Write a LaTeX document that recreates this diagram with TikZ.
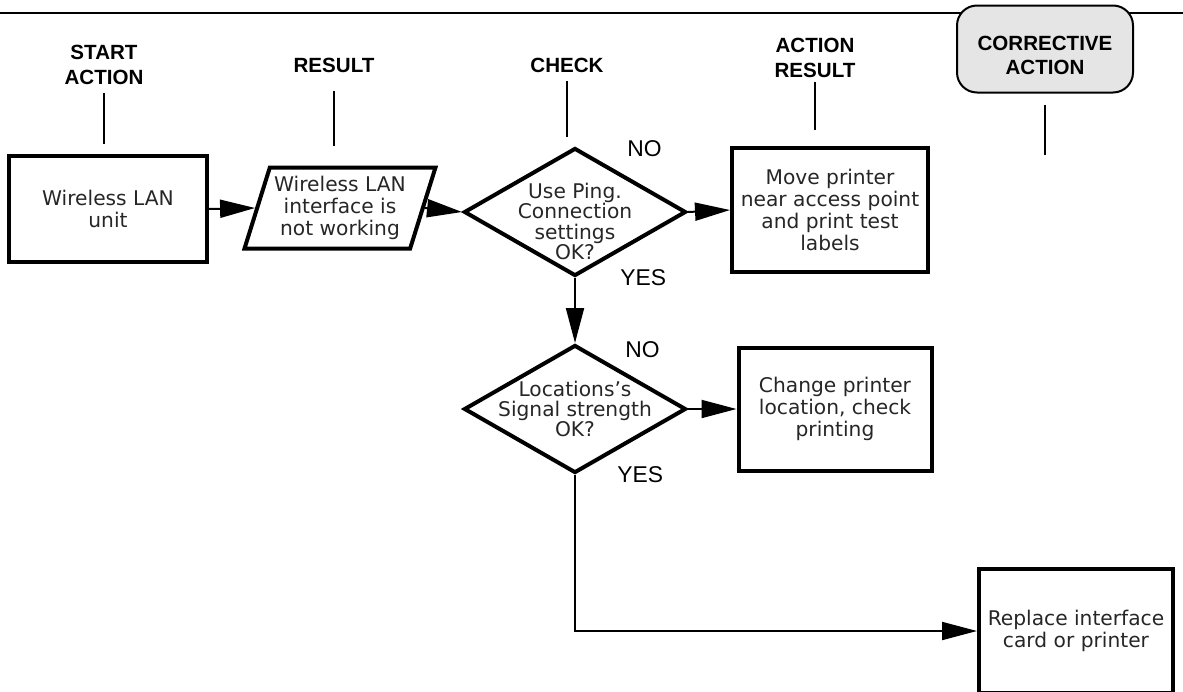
\documentclass[tikz,border=0pt]{standalone}
\usepackage{fontspec}
\setmainfont{DejaVu Sans}
\newfontfamily\headfont{Liberation Sans}
\usetikzlibrary{positioning, shapes.geometric, arrows.meta}

\begin{document}
\begin{tikzpicture}[x=0.2mm, y=-0.2mm,
		box/.style={draw, line width=0.8mm, align=center, inner sep=1pt, text=black!85, font=\fontsize{11.5}{12.5}\selectfont},
		decision/.style={box, diamond, aspect=1.73, minimum width=4.44cm, minimum height=2.56cm, inner sep=-1.4mm},
		asktext/.style={align=center, inner sep=0pt, text=black!85, font=\fontsize{11.5}{11.6}\selectfont},
		head/.style={align=center, inner sep=0pt, font=\headfont\bfseries\fontsize{11.7}{14}\selectfont},
		answer/.style={inner sep=0pt, font=\headfont\fontsize{13}{15}\selectfont},
		flow/.style={line width=0.4mm, -{Triangle[length=7mm, width=3.6mm]}},
		tick/.style={line width=0.4mm}]
		\useasboundingbox (0,0) rectangle (1183,692);
		\draw[line width=0.4mm] (0,13) -- (1183,13);
		
		\node[head] (start) at (104,65) {START\\ACTION};
		\node[head] (result) at (334,65) {RESULT};
		\node[head] (check) at (567,65) {CHECK};
		\node[head] (actres) at (815,58) {ACTION\\RESULT};
		\node[draw, line width=0.4mm, rounded corners=4mm, fill=black!10, minimum width=3.52cm, minimum height=1.74cm, label={[head, yshift=-1.3mm]center:CORRECTIVE\\ACTION}] (corr) at (1045,49) {};
		
		\node[box, minimum width=3.94cm, minimum height=2.12cm] (unit) at (108,209) {Wireless LAN\\unit};
		\node[box, trapezium, trapezium left angle=70, trapezium right angle=110, trapezium stretches, minimum width=3.82cm, minimum height=1.62cm] (para) at (340,208) {Wireless LAN\\interface is\\not working};
		\node[decision, label={[asktext, yshift=-1.9mm]center:Use Ping.\\Connection\\settings\\OK?}] (ping) at (575,212) {};
		\node[box, minimum width=3.92cm, minimum height=2.48cm] (move) at (830,210) {Move printer\\near access point\\and print test\\labels};
		\node[decision, label={[asktext]center:Locations's\\Signal strength\\OK?}] (signal) at (575,409) {};
		\node[box, minimum width=3.86cm, minimum height=2.46cm] (change) at (835,409) {Change printer\\location, check\\printing};
		\node[box, minimum width=3.88cm, minimum height=2.48cm] (replace) at (1076,631) {Replace interface\\card or printer};
		
		\node[answer, right=1.04cm of ping.north, anchor=west, yshift=-0.6mm] (no1) {NO};
		\node[answer, right=0.9cm of ping.south, anchor=west] (yes1) {YES};
		\node[answer, right=1cm of signal.north, anchor=west, yshift=-1.4mm] (no2) {NO};
		\node[answer, right=0.84cm of signal.south, anchor=west] (yes2) {YES};
		
		\draw[tick] ([yshift=-1.7mm]start.south) -- ++(0,51);
		\draw[tick] ([yshift=-3.7mm]result.south) -- ++(0,55);
		\draw[tick] ([yshift=-1.7mm]check.south) -- ++(0,56);
		\draw[tick] ([yshift=-0.9mm]actres.south) -- ++(0,48);
		\draw[tick] ([yshift=-2.2mm]corr.south) -- ++(0,50);
		
		\draw[flow] (unit.east) -- (para.west);
		\draw[flow] (para.east) -- (ping.west);
		\draw[flow] (ping.east) -- (move.west);
		\draw[flow] (ping.south) -- (signal.north);
		\draw[flow] (signal.east) -- (change.west);
		\draw[flow] (signal.south) |- (replace.west);
	\end{tikzpicture}
\end{document}
